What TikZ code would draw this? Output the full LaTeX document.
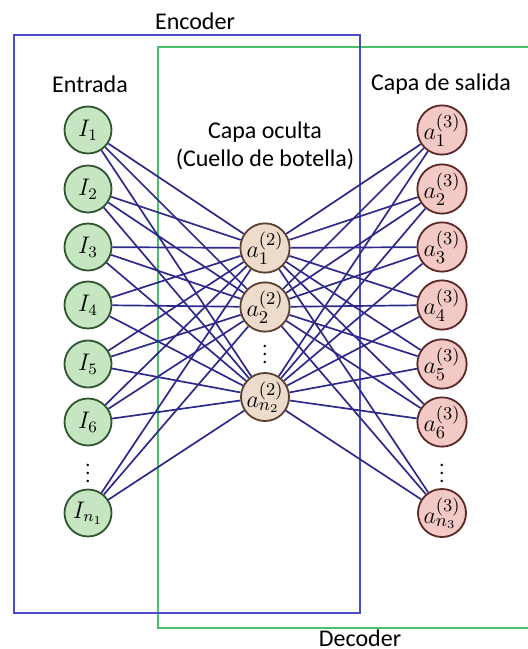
\documentclass[tikz,border=0pt]{standalone}
\usepackage{fontspec}
\setmainfont{Carlito}
\definecolor{edgeblue}{HTML}{2E2A8C}
\definecolor{encblue}{HTML}{4A4ACC}
\definecolor{decgreen}{HTML}{4CBF6A}
\definecolor{infill}{HTML}{C6E6C1}
\definecolor{indraw}{HTML}{2F5530}
\definecolor{hidfill}{HTML}{EDDCCB}
\definecolor{hiddraw}{HTML}{5B4030}
\definecolor{outfill}{HTML}{F3C9C5}
\definecolor{outdraw}{HTML}{5C2828}
\tikzset{
	neuron/.style = {circle, minimum size = 23.5pt, inner sep = 0pt, line width = .9pt},
	inneuron/.style = {neuron, fill = infill, draw = indraw, font = \fontsize{12}{14}\selectfont},
	hidneuron/.style = {neuron, fill = hidfill, draw = hiddraw, font = \fontsize{12.5}{14}\selectfont},
	outneuron/.style = {neuron, fill = outfill, draw = outdraw, font = \fontsize{12.5}{14}\selectfont},
	vdotsnode/.style = {inner sep = 0pt, font = \fontsize{10}{12}\selectfont},
	edge/.style = {draw = edgeblue, line width = .85pt},
	title/.style = {font = \fontsize{12}{14}\selectfont, inner sep = 1pt},
}
\begin{document}
\begin{tikzpicture}[x = .5pt, y = -.5pt]
	\useasboundingbox (0, 0) rectangle (527, 649);
	
	% cajas
	\draw [draw = decgreen, line width = .75pt] (158, 47) rectangle (535, 628);
	\draw [draw = encblue, line width = .75pt] (14, 35) rectangle (360, 613);
	\node [title] (enc) at (195, 21) {Encoder};
	\node [title] (dec) at (360, 638) {Decoder};
	
	% titulos de capas
	\node [title] (tin) at (90, 84) {Entrada};
	\node [title] (thid) at (265, 132) {Capa oculta};
	\node [title] (thid2) at (265, 159) {(Cuello de botella)};
	\node [title] (tout) at (441, 84) {Capa de salida};
	
	% entrada
	\node [inneuron] (i1) at (88, 130) {$I_1$};
	\node [inneuron] (i2) at (88, 189) {$I_2$};
	\node [inneuron] (i3) at (88, 247) {$I_3$};
	\node [inneuron] (i4) at (88, 305) {$I_4$};
	\node [inneuron] (i5) at (88, 364) {$I_5$};
	\node [inneuron] (i6) at (88, 422) {$I_6$};
	\node [vdotsnode] (idots) at (88, 467) {$\vdots$};
	\node [inneuron] (in) at (88, 513) {$I_{n_1}$};
	
	% capa oculta
	\node [hidneuron] (h1) at (265, 248) {$a_1^{(2)}$};
	\node [hidneuron] (h2) at (265, 307) {$a_2^{(2)}$};
	\node [vdotsnode] (hdots) at (265, 348) {$\vdots$};
	\node [hidneuron] (hn) at (265, 397) {$a_{n_2}^{(2)}$};
	
	% salida
	\node [outneuron] (o1) at (442, 130) {$a_1^{(3)}$};
	\node [outneuron] (o2) at (442, 189) {$a_2^{(3)}$};
	\node [outneuron] (o3) at (442, 247) {$a_3^{(3)}$};
	\node [outneuron] (o4) at (442, 305) {$a_4^{(3)}$};
	\node [outneuron] (o5) at (442, 364) {$a_5^{(3)}$};
	\node [outneuron] (o6) at (442, 422) {$a_6^{(3)}$};
	\node [vdotsnode] (odots) at (442, 467) {$\vdots$};
	\node [outneuron] (on) at (442, 513) {$a_{n_3}^{(3)}$};
	
	% lineas entrada - oculta
	\path [edge] (i1) -- (h1) (i1) -- (h2) (i1) -- (hn);
	\path [edge] (i2) -- (h1) (i2) -- (h2) (i2) -- (hn);
	\path [edge] (i3) -- (h1) (i3) -- (h2) (i3) -- (hn);
	\path [edge] (i4) -- (h1) (i4) -- (h2) (i4) -- (hn);
	\path [edge] (i5) -- (h1) (i5) -- (h2) (i5) -- (hn);
	\path [edge] (i6) -- (h1) (i6) -- (h2) (i6) -- (hn);
	\path [edge] (in) -- (h1) (in) -- (h2) (in) -- (hn);
	
	% lineas oculta - salida
	\path [edge] (h1) -- (o1) (h1) -- (o2) (h1) -- (o3) (h1) -- (o4) (h1) -- (o5) (h1) -- (o6) (h1) -- (on);
	\path [edge] (h2) -- (o1) (h2) -- (o2) (h2) -- (o3) (h2) -- (o4) (h2) -- (o5) (h2) -- (o6) (h2) -- (on);
	\path [edge] (hn) -- (o1) (hn) -- (o2) (hn) -- (o3) (hn) -- (o4) (hn) -- (o5) (hn) -- (o6) (hn) -- (on);
\end{tikzpicture}
\end{document}
